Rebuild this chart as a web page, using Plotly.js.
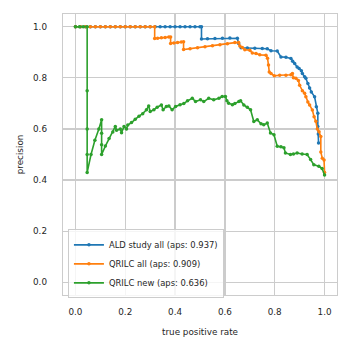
<!DOCTYPE html>
<html>
<head>
<meta charset="utf-8">
<script src="https://cdn.plot.ly/plotly-3.0.1.min.js"></script>
<style>html,body{margin:0;padding:0;background:#fff;}#chart{width:352px;height:352px;}</style>
</head>
<body>
<div id="chart"></div>
<script>
// ALD study all
const aldX = [0,0.02,0.04,0.06,0.08,0.10,0.12,0.14,0.16,0.18,0.20,0.22,0.24,0.26,0.28,0.30,0.32,0.34,0.36,0.38,0.40,0.42,0.44,0.46,0.48,0.50,0.506,0.506,0.53,0.56,0.59,0.62,0.65,0.655,0.665,0.69,0.72,0.75,0.77,0.785,0.81,0.825,0.845,0.865,0.872,0.88,0.89,0.898,0.907,0.911,0.92,0.925,0.933,0.94,0.947,0.96,0.967,0.973,0.973,0.975,0.976];
const aldY = [1,1,1,1,1,1,1,1,1,1,1,1,1,1,1,1,1,1,1,1,1,1,1,1,1,1,1,0.952,0.953,0.954,0.955,0.956,0.955,0.935,0.918,0.917,0.916,0.915,0.914,0.906,0.905,0.882,0.881,0.876,0.865,0.856,0.843,0.837,0.828,0.817,0.804,0.798,0.778,0.76,0.745,0.726,0.687,0.661,0.61,0.58,0.545];

// QRILC all
const qallX = [0,0.02,0.04,0.06,0.08,0.10,0.12,0.14,0.16,0.18,0.20,0.22,0.24,0.26,0.28,0.30,0.318,0.318,0.33,0.345,0.36,0.375,0.382,0.382,0.395,0.41,0.425,0.434,0.434,0.46,0.49,0.52,0.55,0.58,0.61,0.64,0.655,0.66,0.67,0.68,0.70,0.71,0.725,0.74,0.765,0.771,0.775,0.778,0.785,0.798,0.82,0.845,0.865,0.871,0.875,0.885,0.895,0.90,0.911,0.92,0.925,0.933,0.94,0.951,0.958,0.965,0.971,0.978,0.985,0.985,0.991,0.998,1.0];
const qallY = [1,1,1,1,1,1,1,1,1,1,1,1,1,1,1,1,1,0.954,0.955,0.957,0.958,0.96,0.96,0.935,0.936,0.938,0.94,0.941,0.911,0.914,0.918,0.922,0.926,0.93,0.934,0.938,0.938,0.925,0.919,0.91,0.908,0.897,0.895,0.89,0.889,0.877,0.85,0.823,0.817,0.808,0.81,0.81,0.812,0.817,0.80,0.798,0.79,0.771,0.75,0.74,0.726,0.706,0.694,0.674,0.648,0.63,0.60,0.589,0.57,0.51,0.485,0.478,0.43];

// QRILC new
const qnewX = [0,0.016,0.031,0.047,0.047,0.047,0.047,0.047,0.0625,0.078,0.094,0.105,0.105,0.105,0.105,0.12,0.135,0.15,0.16,0.165,0.18,0.185,0.195,0.205,0.21,0.225,0.24,0.255,0.27,0.285,0.294,0.30,0.315,0.328,0.345,0.352,0.365,0.375,0.388,0.402,0.42,0.435,0.45,0.469,0.482,0.502,0.515,0.535,0.555,0.576,0.589,0.602,0.608,0.615,0.63,0.64,0.656,0.663,0.676,0.69,0.703,0.716,0.73,0.745,0.756,0.77,0.783,0.797,0.81,0.825,0.837,0.843,0.863,0.875,0.89,0.91,0.93,0.944,0.957,0.977,0.99,1.0];
const qnewY = [1,1,1,1,0.75,0.6,0.5,0.43,0.5,0.556,0.6,0.636,0.583,0.538,0.5,0.533,0.5625,0.588,0.61,0.595,0.6,0.585,0.61,0.6,0.615,0.625,0.638,0.65,0.66,0.675,0.69,0.668,0.675,0.685,0.694,0.675,0.688,0.69,0.675,0.688,0.695,0.70,0.71,0.72,0.707,0.714,0.707,0.72,0.714,0.72,0.727,0.727,0.71,0.701,0.695,0.70,0.707,0.71,0.694,0.685,0.675,0.629,0.636,0.62,0.616,0.623,0.584,0.577,0.532,0.53,0.526,0.506,0.5,0.502,0.506,0.502,0.5,0.48,0.46,0.454,0.445,0.42];

const names = ['ALD study all (aps: 0.937)','QRILC all (aps: 0.909)','QRILC new (aps: 0.636)'];
const colors = ['#1f77b4','#ff7f0e','#2ca02c'];
const xs = [aldX, qallX, qnewX];
const ys = [aldY, qallY, qnewY];

const traces = xs.map((x,i)=>({
  x: x, y: ys[i], name: names[i], type:'scatter', mode:'lines+markers',
  line:{color:colors[i], width:1.6},
  marker:{color:colors[i], size:3.5}
}));

const fam = 'DejaVu Sans, sans-serif';
const layout = {
  width:352, height:352,
  margin:{l:63, r:15, t:14, b:57},
  paper_bgcolor:'#fff', plot_bgcolor:'#fff',
  font: {family:fam, size:8.8, color:'#262626'},
  showlegend:true,
  xaxis:{
    range:[-0.05,1.05], tickvals:[0,0.2,0.4,0.6,0.8,1.0], ticktext:['0.0','0.2','0.4','0.6','0.8','1.0'],
    showgrid:true, gridcolor:'#cccccc', gridwidth:1.2, zeroline:false,
    showline:true, mirror:true, linecolor:'#cccccc', linewidth:1.25,
    ticks:'outside', ticklen:8, tickcolor:'rgba(0,0,0,0)',
    title:{text:'true positive rate', font:{family:fam, size:8.8, color:'#262626'}, standoff:13},
    automargin:false
  },
  yaxis:{
    range:[-0.05,1.05], tickvals:[0,0.2,0.4,0.6,0.8,1.0], ticktext:['0.0','0.2','0.4','0.6','0.8','1.0'],
    showgrid:true, gridcolor:'#cccccc', gridwidth:1.2, zeroline:false,
    showline:true, mirror:true, linecolor:'#cccccc', linewidth:1.25,
    ticks:'outside', ticklen:13, tickcolor:'rgba(0,0,0,0)',
    title:{text:'precision', font:{family:fam, size:8.8, color:'#262626'}, standoff:8},
    automargin:false
  },
  legend:{
    x:0.018, y:-0.012, xanchor:'left', yanchor:'bottom',
    bgcolor:'rgba(255,255,255,0.8)', bordercolor:'#cccccc', borderwidth:1,
    font:{family:fam, size:8.4, color:'#262626'},
    itemwidth:30, tracegroupgap:0
  }
};
Plotly.newPlot('chart', traces, layout, {displayModeBar:false, staticPlot:true});
</script>
</body>
</html>
